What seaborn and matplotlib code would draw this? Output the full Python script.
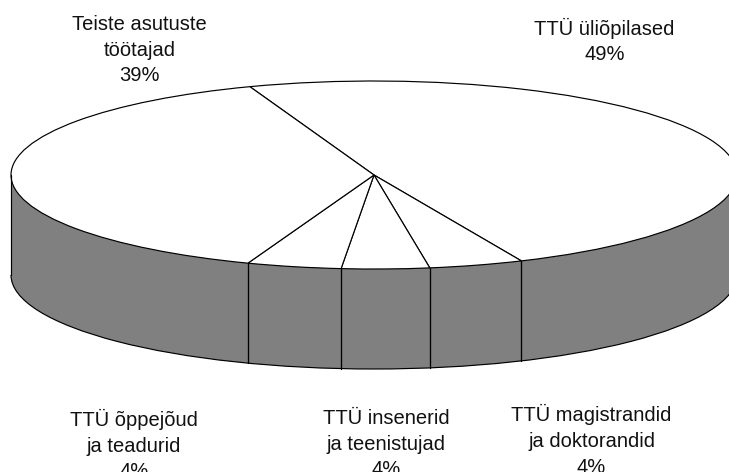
import seaborn as sns
import numpy as np
import matplotlib.pyplot as plt
from matplotlib.patches import Arc

labels = ['TTÜ üliõpilased\n49%', 'TTÜ magistrandid\nja doktorandid\n4%',
          'TTÜ insenerid\nja teenistujad\n4%', 'TTÜ õppejõud\nja teadurid\n4%',
          'Teiste asutuste\ntöötajad\n39%']
shares = [48.9, 4.2, 3.9, 4.2, 38.8]


def draw_chart():
    sns.set_theme(style='white')
    plt.rcParams['font.family'] = ['Liberation Sans', 'DejaVu Sans']

    fig = plt.figure(figsize=(7.29, 4.72), dpi=100)
    ax = fig.add_axes([0, 0, 1, 1])

    # squash the y axis so the round pie comes out as a flat ellipse
    rx, ry, depth = 363, 94, 100
    k = rx / ry
    cx, cy = 374, 175
    y = lambda py: (472 - py) * k
    edge = {'edgecolor': 'black', 'linewidth': 0.85}

    # lower disc is one solid piece, so no seams show through the wall
    ax.pie([sum(shares)], colors=['#808080'], radius=rx,
           center=(cx, y(cy + depth)), wedgeprops={'linewidth': 0})
    ax.fill_between([cx - rx, cx + rx], y(cy + depth), y(cy), color='#808080', lw=0)
    ax.add_patch(Arc((cx, y(cy + depth)), 2 * rx, 2 * rx, theta1=180, theta2=360,
                     color='black', lw=0.85))
    ax.plot([cx - rx, cx - rx], [y(cy), y(cy + depth)], color='black', lw=0.85)
    ax.plot([cx + rx, cx + rx], [y(cy), y(cy + depth)], color='black', lw=0.85)
    wedges, _ = ax.pie(shares, colors=['white'], startangle=110, counterclock=False, radius=rx,
                       center=(cx, y(cy)), wedgeprops=edge)

    # side edges under the slice borders on the front of the disc
    for w in wedges:
        a = np.deg2rad(w.theta1)
        if np.sin(a) < 0:
            px = cx + rx * np.cos(a)
            top = cy - ry * np.sin(a)
            ax.plot([px, px], [y(top), y(top + depth)], color='black', lw=0.95, zorder=3)

    text_pos = [(604.5, 41), (591.5, 440.5), (386, 444), (134, 445), (139.5, 50)]
    for lab, (tx, ty) in zip(labels, text_pos):
        ax.text(tx, y(ty), lab, ha='center', va='center', fontsize=14.5,
                linespacing=1.45, color='#111111')

    ax.set_aspect('auto')
    ax.set_xlim(0, 729)
    ax.set_ylim(0, 472 * k)
    ax.axis('off')
    fig.savefig('out.png', dpi=100, facecolor='white')


if __name__ == "__main__":
    draw_chart()
